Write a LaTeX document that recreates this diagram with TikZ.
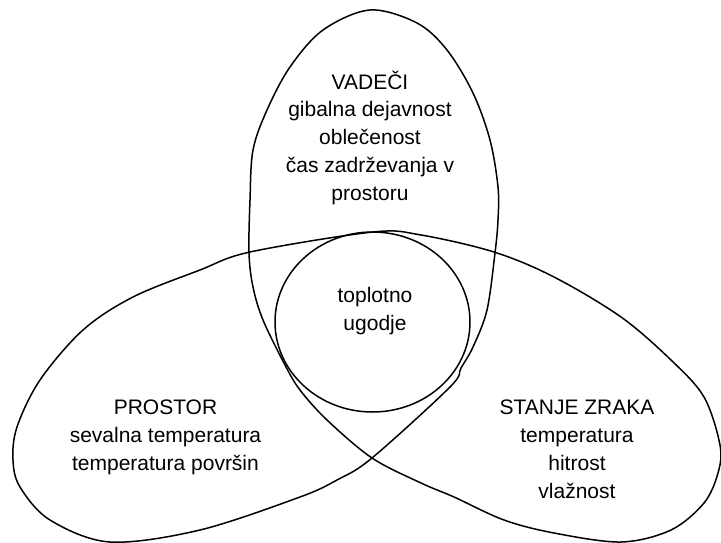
\documentclass[tikz,border=0pt]{standalone}
\usepackage{fontspec}
\setmainfont{Liberation Sans}
\begin{document}
\begin{tikzpicture}[
        x=1pt, y=-1pt,
        % Umriss der drei Bereiche und des Kreises
        outline/.style={draw, line width=1.5pt},
        % Textbloecke, zentriert, Grundlinie der letzten Zeile als Anker
        blocktext/.style={align=center, inner sep=0pt, anchor=base, font=\fontsize{21}{27.7}\selectfont}
    ]
    \useasboundingbox (0,0) rectangle (721,543);
    % ein geschlossener Zug mit drei Schleifen
    \draw[outline] plot[smooth cycle, tension=0.55] coordinates {
        (373,232) (421,235) (494,252) (554,277) (621,317) (671,360) (704,397)
        (720,445) (718,473) (704,503) (671,530) (621,542) (554,533) (504,520)
        (454,497) (421,483) (372,458) (327,420) (300,390) (285,365) (263,320)
        (253,287) (249,253) (250,200) (253,150) (267,110) (290,67) (323,30)
        (370,10) (417,23) (447,50) (473,93) (490,140) (498,187) (498,220)
        (495,253) (487,310) (473,347) (461,368) (450,387) (372,458) (337,480)
        (300,497) (200,530) (110,542) (50,520) (20,487) (13,460) (17,427)
        (40,380) (83,330) (133,297) (200,270) (250,252)};
    \draw[outline] (372.5,322) ellipse [x radius=97.5, y radius=90];
    \node[blocktext] (vadeci) at (370,200) {VADEČI\\gibalna dejavnost\\oblečenost\\čas zadrževanja v\\prostoru};
    \node[blocktext] (ugodje) at (375,330) {toplotno\\ugodje};
    \node[blocktext] (prostor) at (165.5,470) {PROSTOR\\sevalna temperatura\\temperatura površin};
    \node[blocktext] (stanje) at (577,498) {STANJE ZRAKA\\temperatura\\hitrost\\vlažnost};
\end{tikzpicture}
\end{document}
